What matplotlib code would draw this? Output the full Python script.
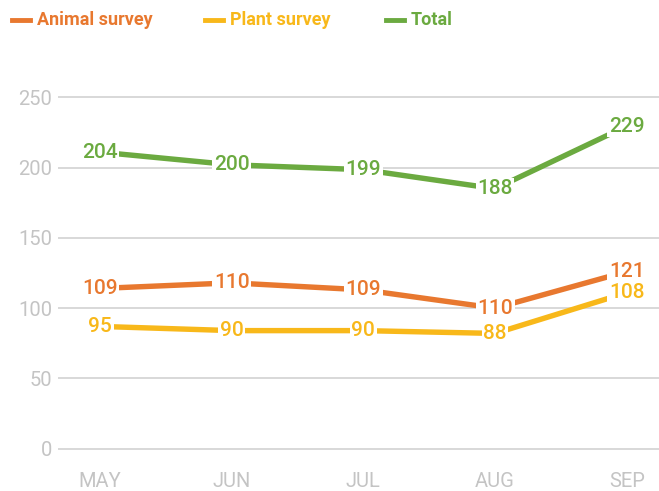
import matplotlib.pyplot as plt
from matplotlib.lines import Line2D

months = ['MAY', 'JUN', 'JUL', 'AUG', 'SEP']
# line positions as drawn
animal = [114, 118, 113, 100, 126]
plant = [87, 84, 84, 82, 111]
total = [211, 202, 198.5, 185, 229.5]
# printed labels
animal_lbl = ['109', '110', '109', '110', '121']
plant_lbl = ['95', '90', '90', '88', '108']
total_lbl = ['204', '200', '199', '188', '229']

c_animal = '#E8782F'
c_plant = '#F8B81A'
c_total = '#6BAA40'
grey_txt = '#C4C4C4'
grey_grid = '#D6D6D6'

plt.rcParams['font.family'] = ['Roboto', 'DejaVu Sans']

fig = plt.figure(figsize=(6.59, 4.91), dpi=100)
ax = fig.add_axes([0.088, 0.0719, 0.912, 0.7442])

x = list(range(len(months)))
for vals, lbls, col in [(total, total_lbl, c_total),
                        (animal, animal_lbl, c_animal),
                        (plant, plant_lbl, c_plant)]:
    ax.plot(x, vals, color=col, lw=3.9, solid_capstyle='round', zorder=3)
    for xi, v, t in zip(x, vals, lbls):
        ax.text(xi, v, t, color=col, fontsize=15, fontweight='medium',
                ha='center', va='center', zorder=4,
                bbox=dict(boxstyle='square,pad=0.08', fc='white', ec='none'))

ax.set_xlim(-0.319, 4.245)
ax.set_ylim(-5, 255)
ax.set_yticks([0, 50, 100, 150, 200, 250])
ax.set_xticks(x)
ax.set_xticklabels(months)
ax.grid(axis='y', color=grey_grid, lw=1.3)
ax.set_axisbelow(True)
for s in ax.spines.values():
    s.set_visible(False)
ax.tick_params(length=0, colors=grey_txt, labelsize=14.5)
ax.tick_params(axis='y', pad=4)
ax.tick_params(axis='x', pad=12)

# legend drawn by hand across the top
legend_items = [('Animal survey', c_animal, 12), ('Plant survey', c_plant, 205),
                ('Total', c_total, 386)]
W, H = 659, 491
for name, col, px in legend_items:
    fig.add_artist(Line2D([px / W, (px + 18) / W], [1 - 20 / H, 1 - 20 / H],
                          color=col, lw=3.5, transform=fig.transFigure))
    fig.text((px + 25) / W, 1 - 20 / H, name, color=col, fontsize=13,
             fontweight='bold', va='center', ha='left')

fig.savefig('out.png', dpi=100)
